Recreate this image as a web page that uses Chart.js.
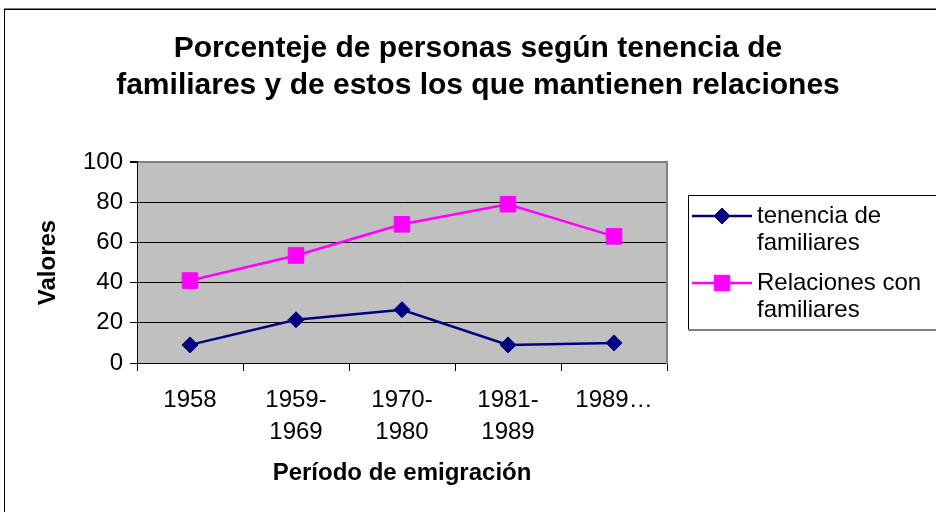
<!DOCTYPE html>
<html>
<head>
<meta charset="utf-8">
<script src="https://cdn.jsdelivr.net/npm/chart.js@4.4.0/dist/chart.umd.min.js"></script>
<style>
  body { margin: 0; background: #fff; }
</style>
</head>
<body>
<canvas id="chart" width="936" height="512"></canvas>
<script>
// Data.
const periodLabels = ['1958', ['1959-', '1969'], ['1970-', '1980'], ['1981-', '1989'], '1989…'];
const tenenciaValues = [9, 21.5, 26.5, 9, 10];
const relacionesValues = [41, 53.5, 69, 79, 63];
const titleLines = ['Porcenteje de personas según tenencia de', 'familiares y de estos los que mantienen relaciones'];
const legendLines = [['tenencia de', 'familiares'], ['Relaciones con', 'familiares']];

const fontFamily = '"Liberation Sans", Arial, sans-serif';
Chart.defaults.font.family = fontFamily;
Chart.defaults.color = '#000';

// Gray plot area and the outer frame.
const backdrop = {
  id: 'backdrop',
  beforeDraw(chart) {
    const {ctx, chartArea: a} = chart;
    ctx.save();
    ctx.fillStyle = '#fff';
    ctx.fillRect(0, 0, chart.width, chart.height);
    ctx.strokeStyle = '#000';
    ctx.lineWidth = 1;
    ctx.strokeRect(4.5, 9.5, 1000, 1000);
    ctx.strokeStyle = '#808080';
    ctx.beginPath();
    ctx.moveTo(4, 8.5);
    ctx.lineTo(936, 8.5);
    ctx.stroke();
    ctx.fillStyle = '#c0c0c0';
    ctx.fillRect(a.left, a.top, a.right - a.left, a.bottom - a.top);
    ctx.restore();
  }
};

// Boxed legend with wrapped text, on the right.
const boxLegend = {
  id: 'boxLegend',
  afterDraw(chart) {
    const ctx = chart.ctx;
    ctx.save();
    ctx.lineWidth = 1;
    ctx.strokeStyle = '#000';
    ctx.beginPath();
    ctx.moveTo(688.5, 330);
    ctx.lineTo(688.5, 195.5);
    ctx.lineTo(936, 195.5);
    ctx.stroke();
    ctx.strokeStyle = '#808080';
    ctx.lineWidth = 2;
    ctx.beginPath();
    ctx.moveTo(688, 330);
    ctx.lineTo(936, 330);
    ctx.stroke();

    const rows = [216, 283];
    ctx.font = '24px ' + fontFamily;
    ctx.textBaseline = 'middle';
    ctx.textAlign = 'left';
    chart.data.datasets.forEach((ds, i) => {
      const y = rows[i];
      ctx.strokeStyle = ds.borderColor;
      ctx.fillStyle = ds.backgroundColor;
      ctx.lineWidth = ds.borderWidth;
      ctx.beginPath();
      ctx.moveTo(692, y);
      ctx.lineTo(752, y);
      ctx.stroke();
      ctx.lineWidth = 1;
      Chart.helpers.drawPoint(ctx, {pointStyle: ds.pointStyle, radius: ds.pointRadius, rotation: 0, borderWidth: 1}, 722, y);
      ctx.fillStyle = '#000';
      legendLines[i].forEach((line, j) => {
        ctx.fillText(line, 757, y + j * 27.5);
      });
    });
    ctx.restore();
  }
};

const config = {
  type: 'line',
  data: {
    labels: periodLabels,
    datasets: [{
      label: 'tenencia de familiares',
      data: tenenciaValues,
      borderColor: '#000080',
      backgroundColor: '#000080',
      borderWidth: 2.5,
      pointStyle: 'rectRot',
      pointRadius: 8,
      pointBorderWidth: 1,
      tension: 0
    },
    {
      label: 'Relaciones con familiares',
      data: relacionesValues,
      borderColor: '#ff00ff',
      backgroundColor: '#ff00ff',
      borderWidth: 2.5,
      pointStyle: 'rect',
      pointRadius: 11,
      pointBorderWidth: 1,
      tension: 0
    }]
  },
  options: {
    responsive: false,
    animation: false,
    layout: {padding: {left: 20, right: 0, top: 0, bottom: 0}},
    plugins: {
      legend: {display: false},
      tooltip: {enabled: false},
      title: {
        display: true,
        text: titleLines,
        color: '#000',
        font: {size: 30, weight: 'bold', lineHeight: 1.233},
        padding: {top: 30.5, bottom: 57.5}
      }
    },
    scales: {
      x: {
        offset: true,
        grid: {offset: true, drawOnChartArea: false, color: '#000', tickLength: 8},
        border: {color: '#000', width: 1},
        ticks: {font: {size: 24, lineHeight: 1.333}, padding: 13, maxRotation: 0, autoSkip: false},
        title: {display: true, text: 'Período de emigración', font: {size: 24, weight: 'bold', lineHeight: 1.2}, padding: {top: 0, bottom: 24.6}},
        afterFit(scale) { scale.height = 149; }
      },
      y: {
        min: 0,
        max: 100,
        grid: {
          color: (c) => (c.tick && c.tick.value === 100 ? '#808080' : '#000'),
          lineWidth: (c) => (c.tick && c.tick.value === 100 ? 2 : 1),
          tickColor: '#000',
          tickLength: 7
        },
        border: {color: '#000', width: 1},
        ticks: {stepSize: 20, font: {size: 24}, padding: 7},
        title: {display: true, text: 'Valores', font: {size: 24, weight: 'bold', lineHeight: 1.2}, padding: {top: 14, bottom: 0}},
        afterFit(scale) { scale.width = 117; }
      },
      side: {
        position: 'right',
        min: 0,
        max: 100,
        grid: {display: false},
        border: {display: true, color: '#808080', width: 2},
        ticks: {display: false},
        afterFit(scale) { scale.width = 269; }
      }
    }
  },
  plugins: [backdrop, boxLegend]
};

const chart = new Chart(document.getElementById('chart'), config);
</script>
</body>
</html>
